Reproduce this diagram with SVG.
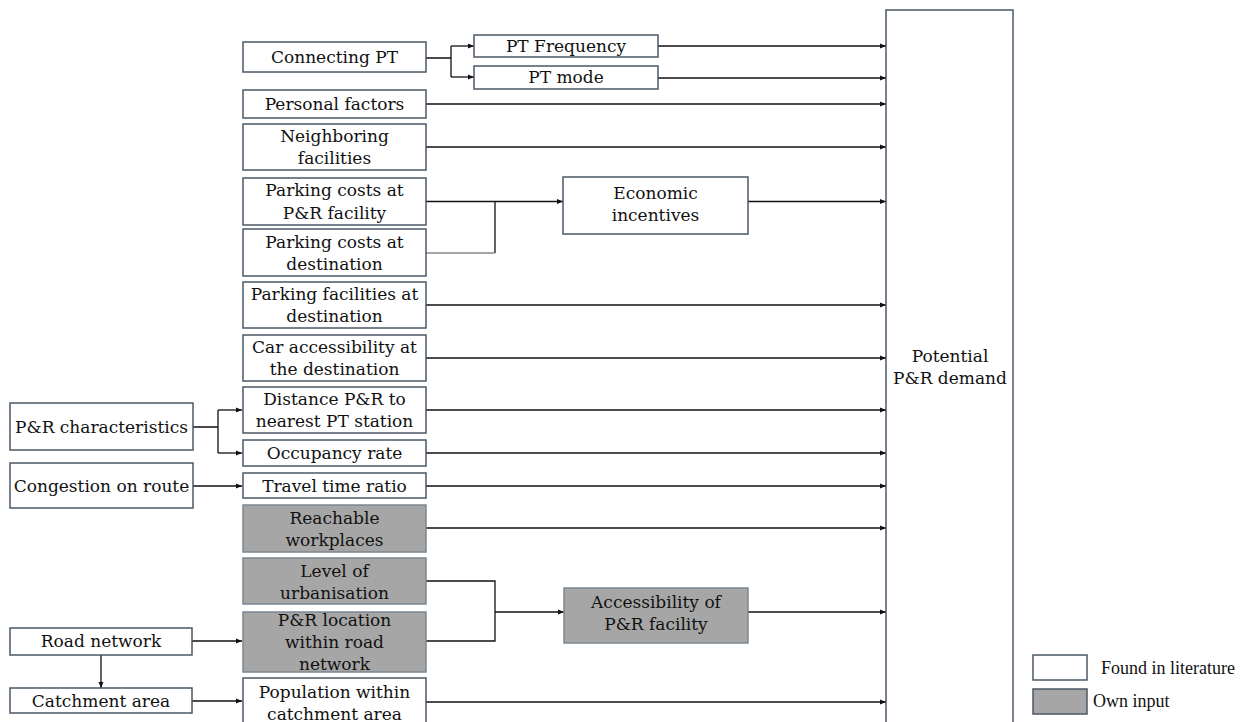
<svg xmlns="http://www.w3.org/2000/svg" width="1247" height="722" viewBox="0 0 1247 722">
<style>
.b{fill:#fff;stroke:#4a5866;stroke-width:1.5}
.g{fill:#a6a6a6;stroke:#7d8790;stroke-width:1.5}
.t{font-family:"DejaVu Serif",serif;font-size:17px;fill:#111;text-anchor:middle}
.l{font-family:"Liberation Serif",serif;font-size:18px;fill:#111}
.c{fill:none;stroke:#111;stroke-width:1.3}
.a{marker-end:url(#ah)}
</style>
<defs>
<marker id="ah" markerUnits="userSpaceOnUse" markerWidth="6" markerHeight="6" refX="6" refY="3" orient="auto">
<path d="M0,0.5 L6,3 L0,5.5 Z" fill="#111"/>
</marker>
</defs>
<rect width="1247" height="722" fill="#fff"/>
<g id="connectors">
<path class="c" d="M426,58 H451 M451,46 V77"/>
<path class="c a" d="M451,46 H474"/>
<path class="c a" d="M451,77 H474"/>
<path class="c a" d="M658,46 H886"/>
<path class="c a" d="M658,78 H886"/>
<path class="c a" d="M426,104 H886"/>
<path class="c a" d="M426,147 H886"/>
<path class="c a" d="M426,201.5 H563"/>
<path class="c" d="M495,201.5 V253"/>
<path d="M426,253 H495" fill="none" stroke="#888" stroke-width="1.3"/>
<path class="c a" d="M748,201.5 H886"/>
<path class="c a" d="M426,305 H886"/>
<path class="c a" d="M426,358 H886"/>
<path class="c a" d="M426,410 H886"/>
<path class="c a" d="M426,453 H886"/>
<path class="c a" d="M426,486 H886"/>
<path class="c a" d="M426,528 H886"/>
<path class="c" d="M426,581 H495 V641 H426"/>
<path class="c a" d="M495,612 H564"/>
<path class="c a" d="M748,612 H886"/>
<path class="c a" d="M426,702 H886"/>
<path class="c" d="M193,427 H218 M218,410 V453"/>
<path class="c a" d="M218,410 H242"/>
<path class="c a" d="M218,453 H242"/>
<path class="c a" d="M193,486 H242"/>
<path class="c a" d="M192,641 H242"/>
<path class="c a" d="M101,655 V688"/>
<path class="c a" d="M192,701 H242"/>
</g>
<g id="demand"><rect class="b" x="886" y="10" width="127" height="730"/><text class="t" x="950" y="362">Potential</text><text class="t" x="950" y="384">P&amp;R demand</text></g>
<g id="connectingPT"><rect class="b" x="243" y="42" width="183" height="30"/><text class="t" x="334.5" y="63">Connecting PT</text></g>
<g id="ptFrequency"><rect class="b" x="474" y="35" width="184" height="22"/><text class="t" x="566" y="52">PT Frequency</text></g>
<g id="ptMode"><rect class="b" x="474" y="66" width="184" height="23"/><text class="t" x="566" y="83">PT mode</text></g>
<g id="personal"><rect class="b" x="243" y="90" width="183" height="28"/><text class="t" x="334.5" y="110">Personal factors</text></g>
<g id="neighboring"><rect class="b" x="243" y="124" width="183" height="46"/><text class="t" x="334.5" y="142">Neighboring</text><text class="t" x="334.5" y="164">facilities</text></g>
<g id="costsPR"><rect class="b" x="243" y="178" width="183" height="47"/><text class="t" x="334.5" y="196">Parking costs at</text><text class="t" x="334.5" y="219">P&amp;R facility</text></g>
<g id="costsDest"><rect class="b" x="243" y="229" width="183" height="47"/><text class="t" x="334.5" y="248">Parking costs at</text><text class="t" x="334.5" y="270">destination</text></g>
<g id="economic"><rect class="b" x="563" y="177" width="185" height="57"/><text class="t" x="655.5" y="199">Economic</text><text class="t" x="655.5" y="221">incentives</text></g>
<g id="parkingFac"><rect class="b" x="243" y="282" width="183" height="46"/><text class="t" x="334.5" y="300">Parking facilities at</text><text class="t" x="334.5" y="322">destination</text></g>
<g id="carAccess"><rect class="b" x="243" y="335" width="183" height="46"/><text class="t" x="334.5" y="353">Car accessibility at</text><text class="t" x="334.5" y="375">the destination</text></g>
<g id="distance"><rect class="b" x="243" y="387" width="183" height="46"/><text class="t" x="334.5" y="405">Distance P&amp;R to</text><text class="t" x="334.5" y="427">nearest PT station</text></g>
<g id="occupancy"><rect class="b" x="243" y="440" width="183" height="26"/><text class="t" x="334.5" y="459">Occupancy rate</text></g>
<g id="travelTime"><rect class="b" x="243" y="473" width="183" height="25"/><text class="t" x="334.5" y="492">Travel time ratio</text></g>
<g id="prChar"><rect class="b" x="10" y="403" width="183" height="47"/><text class="t" x="101.5" y="433">P&amp;R characteristics</text></g>
<g id="congestion"><rect class="b" x="10" y="463" width="183" height="45"/><text class="t" x="101.5" y="492">Congestion on route</text></g>
<g id="reachable"><rect class="g" x="243" y="505" width="183" height="47"/><text class="t" x="334.5" y="524">Reachable</text><text class="t" x="334.5" y="546">workplaces</text></g>
<g id="urbanisation"><rect class="g" x="243" y="558" width="183" height="46"/><text class="t" x="334.5" y="577">Level of</text><text class="t" x="334.5" y="599">urbanisation</text></g>
<g id="location"><rect class="g" x="243" y="612" width="183" height="60"/><text class="t" x="334.5" y="626">P&amp;R location</text><text class="t" x="334.5" y="648">within road</text><text class="t" x="334.5" y="670">network</text></g>
<g id="accessibility"><rect class="g" x="564" y="588" width="184" height="55"/><text class="t" x="656" y="608">Accessibility of</text><text class="t" x="656" y="630">P&amp;R facility</text></g>
<g id="population"><rect class="b" x="243" y="678" width="183" height="50"/><text class="t" x="334.5" y="698">Population within</text><text class="t" x="334.5" y="720">catchment area</text></g>
<g id="roadNetwork"><rect class="b" x="10" y="628" width="182" height="27"/><text class="t" x="101" y="647">Road network</text></g>
<g id="catchment"><rect class="b" x="10" y="688" width="182" height="25"/><text class="t" x="101" y="707">Catchment area</text></g>
<g id="legend">
<rect class="b" x="1033" y="655" width="54" height="25"/><text class="l" x="1101" y="674">Found in literature</text>
<rect class="g" x="1033" y="689" width="54" height="25" style="stroke:#4a5866"/><text class="l" x="1093" y="707">Own input</text>
</g>
</svg>
